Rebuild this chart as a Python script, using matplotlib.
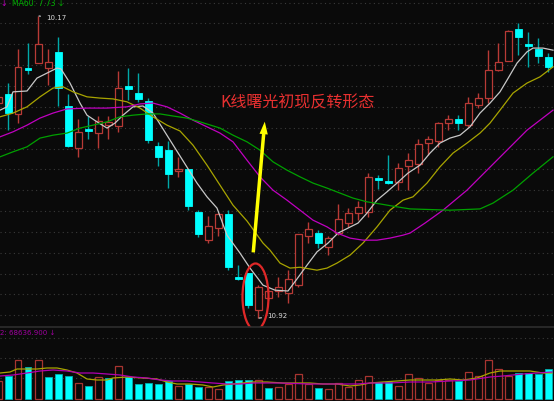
import matplotlib
matplotlib.use("Agg")
import matplotlib.pyplot as plt
from matplotlib.patches import Ellipse
import numpy as np

# daily candles, oldest first (prices)
opens = [16.08, 16.30, 15.82, 16.92, 17.04, 16.92, 17.31, 16.01, 15.00, 15.46,
         15.36, 15.55, 15.53, 16.49, 16.32, 16.13, 15.05, 14.95, 14.45, 14.50,
         13.47, 12.79, 13.08, 13.42, 11.91, 12.00, 11.11, 11.40, 11.57, 11.52,
         11.71, 12.89, 12.96, 12.63, 12.96, 13.20, 13.44, 13.47, 14.28, 14.21,
         14.19, 14.57, 14.62, 15.12, 15.17, 15.60, 15.70, 15.55, 16.03, 16.20,
         16.87, 17.09, 17.86, 17.50, 17.38, 17.19]
highs = [16.27, 16.56, 17.38, 17.52, 18.17, 17.38, 17.67, 16.30, 15.70, 15.77,
         15.77, 15.77, 16.85, 16.92, 16.80, 16.20, 15.15, 15.17, 14.79, 14.50,
         13.51, 13.37, 13.44, 13.51, 12.19, 12.00, 11.71, 11.64, 11.91, 12.07,
         12.94, 13.23, 13.03, 12.89, 13.66, 13.56, 13.73, 14.40, 14.35, 14.83,
         14.64, 14.88, 15.22, 15.29, 15.63, 15.79, 15.79, 16.23, 16.32, 17.35,
         17.52, 17.83, 18.00, 17.79, 17.64, 17.28]
lows = [16.01, 15.43, 15.60, 16.78, 17.04, 16.51, 16.01, 15.03, 14.79, 15.22,
        15.00, 15.22, 15.39, 16.15, 16.11, 15.12, 14.57, 14.04, 14.31, 13.51,
        12.87, 12.72, 12.89, 12.07, 11.83, 11.16, 10.92, 11.35, 11.43, 11.28,
        11.67, 12.72, 12.60, 12.43, 12.91, 13.11, 13.27, 13.35, 14.02, 14.14,
        13.99, 13.99, 14.40, 14.83, 15.03, 15.43, 15.43, 15.51, 15.96, 16.08,
        16.85, 17.09, 17.23, 16.95, 17.04, 16.83]
closes = [16.23, 15.84, 16.95, 16.87, 17.50, 17.07, 16.44, 15.05, 15.39, 15.41,
          15.65, 15.63, 16.44, 16.42, 16.18, 15.19, 14.79, 14.38, 14.50, 13.61,
          12.94, 13.13, 13.42, 12.15, 11.86, 11.23, 11.67, 11.57, 11.67, 11.86,
          12.94, 13.06, 12.72, 12.84, 13.30, 13.44, 13.59, 14.31, 14.23, 14.16,
          14.52, 14.71, 15.10, 15.22, 15.60, 15.70, 15.60, 16.08, 16.20, 16.87,
          17.07, 17.81, 17.67, 17.45, 17.21, 16.95]
volumes = [36000, 46000, 78000, 64000, 78000, 44000, 50000, 46000, 32000, 26000,
           44000, 42000, 66000, 44000, 30000, 32000, 30000, 36000, 26000, 30000,
           24000, 24000, 20000, 36000, 38000, 38000, 38000, 22000, 24000, 30000,
           50000, 30000, 22000, 20000, 32000, 24000, 38000, 46000, 34000, 34000,
           26000, 50000, 42000, 32000, 38000, 38000, 36000, 54000, 46000, 78000,
           60000, 46000, 52000, 52000, 50000, 60000]
# volume bars drawn as "down" even though the candle closed flat/up
vol_down_extra = [5, 11, 27]

# moving averages (candle index, price)
ma5_x = [0.2, 0.9, 1.5, 2.9, 3.9, 4.9, 5.9, 6.3, 7.2, 8.2, 8.9, 9.9, 10.9, 11.7, 12.5,
         13.5, 14.5, 15.5, 16.5, 18.2, 19.9, 20.9, 21.9, 22.9, 24.2, 25.2, 26.5, 27.7,
         29.0, 29.9, 30.9, 31.9, 33.0, 34.0, 35.0, 36.0, 36.9, 37.9, 38.9, 39.9, 41.0,
         42.2, 43.2, 44.2, 45.2, 46.2, 47.2, 48.2, 49.2, 50.2, 50.9, 51.9, 52.9, 53.5,
         54.5, 55.5]
ma5_y = [15.91, 15.99, 16.35, 16.37, 16.68, 16.80, 16.92, 16.90, 16.56, 16.08, 15.79,
         15.63, 15.48, 15.60, 15.79, 15.99, 16.01, 15.84, 15.46, 14.81, 14.16, 13.83,
         13.56, 12.91, 12.48, 12.12, 11.71, 11.59, 11.57, 11.86, 12.19, 12.51, 12.72,
         12.96, 13.08, 13.20, 13.44, 13.75, 13.95, 14.16, 14.40, 14.59, 14.88, 15.12,
         15.24, 15.31, 15.51, 15.84, 16.08, 16.35, 16.63, 17.04, 17.31, 17.40, 17.40,
         17.35]
ma10_x = [0.2, 1.5, 2.9, 4.2, 5.5, 6.5, 7.5, 8.9, 10.2, 11.5, 12.9, 14.2, 15.5, 16.9,
          18.2, 19.5, 20.9, 22.2, 23.5, 24.9, 26.5, 27.2, 28.2, 29.2, 30.2, 31.9, 32.9,
          33.9, 35.2, 36.5, 37.9, 39.2, 40.5, 41.5, 42.9, 44.2, 45.5, 46.9, 48.2, 49.2,
          50.2, 51.5, 52.9, 54.2, 55.5]
ma10_y = [15.75, 15.84, 15.99, 16.23, 16.44, 16.47, 16.35, 16.23, 16.20, 16.18, 16.11,
          15.96, 15.75, 15.55, 15.41, 15.07, 14.59, 14.11, 13.63, 13.25, 12.72, 12.55,
          12.24, 12.12, 12.14, 12.07, 12.12, 12.24, 12.43, 12.72, 13.11, 13.51, 13.75,
          13.83, 14.16, 14.55, 14.88, 15.12, 15.36, 15.60, 15.91, 16.32, 16.56, 16.71,
          16.95]
ma20_x = [0.2, 1.5, 2.9, 4.2, 5.5, 6.9, 8.9, 10.9, 12.9, 14.2, 15.5, 16.9, 18.2, 19.5,
          20.9, 22.2, 23.5, 24.9, 26.2, 27.5, 28.9, 30.2, 31.5, 32.9, 33.9, 35.2, 36.5,
          37.9, 39.2, 40.5, 41.2, 42.7, 44.5, 46.9, 48.9, 50.9, 52.9, 55.5]
ma20_y = [15.27, 15.39, 15.55, 15.72, 15.84, 15.94, 15.96, 15.96, 15.99, 16.06, 16.08,
          15.99, 15.84, 15.67, 15.51, 15.36, 15.15, 14.71, 14.31, 13.99, 13.75, 13.51,
          13.27, 13.11, 12.96, 12.84, 12.79, 12.79, 12.84, 12.91, 12.96, 13.20, 13.51,
          13.99, 14.47, 14.95, 15.43, 15.91]
ma60_x = [0.2, 1.5, 2.9, 4.2, 5.5, 6.9, 8.2, 9.5, 10.9, 12.2, 13.5, 14.9, 16.2, 17.5,
          18.9, 20.2, 22.2, 23.5, 24.9, 26.2, 27.5, 28.9, 30.2, 31.5, 32.9, 34.2, 35.5,
          36.9, 38.2, 39.9, 41.2, 45.2, 48.2, 49.5, 51.5, 53.5, 55.5]
ma60_y = [14.79, 14.91, 15.03, 15.24, 15.31, 15.36, 15.48, 15.55, 15.63, 15.75, 15.79,
          15.82, 15.82, 15.77, 15.72, 15.63, 15.48, 15.31, 15.15, 14.95, 14.67, 14.47,
          14.31, 14.16, 14.04, 13.92, 13.80, 13.71, 13.66, 13.59, 13.54, 13.51, 13.54,
          13.68, 13.99, 14.40, 14.79]

# volume moving averages
vma5_x = [0.2, 1.2, 1.9, 2.9, 3.9, 4.9, 5.9, 6.9, 7.9, 8.9, 9.9, 10.9, 11.5, 12.9, 14.5,
          15.9, 16.9, 17.9, 19.2, 20.5, 21.5, 22.5, 23.5, 24.5, 25.5, 26.9, 28.5, 29.9,
          31.2, 32.5, 33.9, 35.2, 36.2, 37.2, 38.5, 39.9, 41.2, 42.5, 43.9, 45.2, 46.5,
          47.9, 49.2, 50.2, 51.9, 53.2, 54.5, 55.4]
vma5_y = [52000, 54000, 60000, 60000, 60000, 62000, 62000, 58000, 52000, 40000, 38000,
          38000, 42000, 44000, 42000, 40000, 34000, 30000, 30000, 28000, 24000, 28000,
          30000, 32000, 34000, 34000, 32000, 32000, 32000, 30000, 30000, 26000, 28000,
          32000, 34000, 36000, 38000, 38000, 38000, 40000, 38000, 42000, 52000, 56000,
          56000, 56000, 52000, 52000]
vma10_x = [0.2, 1.5, 2.9, 4.2, 5.5, 6.9, 8.2, 9.5, 10.9, 12.2, 13.5, 14.9, 16.2, 17.5,
           18.9, 20.2, 21.5, 22.9, 24.2, 25.5, 26.9, 28.2, 31.2, 34.0, 35.9, 37.2, 39.2,
           41.2, 43.2, 45.2, 47.2, 49.2, 50.5, 52.5, 53.9, 55.4]
vma10_y = [46000, 48000, 52000, 56000, 58000, 56000, 52000, 52000, 50000, 48000, 44000,
           42000, 38000, 36000, 36000, 34000, 32000, 30000, 30000, 32000, 32000, 32000,
           30000, 30000, 30000, 32000, 32000, 34000, 34000, 36000, 38000, 44000, 46000,
           50000, 52000, 54000]

BG = "#0a0a0a"
UP = "#b83a36"
DOWN = "#00ffff"
DOWN_WICK = "#00a8a8"

fig = plt.figure(figsize=(5.54, 4.01), dpi=100, facecolor=BG)
ax = fig.add_axes([0, 74 / 401, 1, 327 / 401])
axv = fig.add_axes([0, 0, 1, 74 / 401])
for a in (ax, axv):
    a.set_facecolor(BG)
    a.set_xticks([])
    a.set_yticks([])
    for s in a.spines.values():
        s.set_visible(False)
    a.set_xlim(0.2, 55.6)

ax.set_ylim(10.706, 18.554)
axv.set_ylim(-4000, 144000)
axv.spines["top"].set_visible(True)
axv.spines["top"].set_color("#2e2e2e")
axv.spines["top"].set_linewidth(1.2)

for lvl in np.arange(10.99, 18.6, 0.5):
    ax.axhline(lvl, color="#3a3a3a", lw=0.8, ls=(0, (1, 3)), zorder=0)
for lvl in (42000, 82000, 122000):
    axv.axhline(lvl, color="#3a3a3a", lw=0.8, ls=(0, (1, 3)), zorder=0)

idx = np.arange(len(opens))
o = np.array(opens)
c = np.array(closes)
up = c >= o

# wicks
ax.vlines(idx[up], np.array(lows)[up], np.array(highs)[up], color=UP, lw=1, zorder=2)
ax.vlines(idx[~up], np.array(lows)[~up], np.array(highs)[~up], color=DOWN_WICK, lw=1, zorder=2)
# bodies
ax.bar(idx[up], (c - o)[up], bottom=o[up], width=0.7, facecolor=BG, edgecolor=UP,
       linewidth=0.9, zorder=3)
ax.bar(idx[~up], (o - c)[~up], bottom=c[~up], width=0.7, facecolor=DOWN,
       edgecolor=DOWN, linewidth=0.6, zorder=3)

ax.plot(ma5_x, ma5_y, color="#c8c8c8", lw=0.9, zorder=4)
ax.plot(ma10_x, ma10_y, color="#a8a400", lw=0.9, zorder=4)
ax.plot(ma20_x, ma20_y, color="#c000c0", lw=0.9, zorder=4)
ax.plot(ma60_x, ma60_y, color="#00a000", lw=0.9, zorder=4)

# volume
vol = np.array(volumes)
vdown = ~up.copy()
vdown[vol_down_extra] = True
axv.bar(idx[~vdown], vol[~vdown], width=0.7, facecolor=BG, edgecolor="#a83430",
        linewidth=0.9, zorder=2)
axv.bar(idx[vdown], vol[vdown], width=0.7, facecolor=DOWN, edgecolor="#00b0b0",
        linewidth=0.6, zorder=2)
axv.plot(vma5_x, vma5_y, color="#a8a400", lw=0.9, zorder=3)
axv.plot(vma10_x, vma10_y, color="#b000b0", lw=0.9, zorder=3)

# high / low markers
hi = int(np.argmax(highs))
lo = int(np.argmin(lows))
ax.annotate("10.17", xy=(hi + 0.1, highs[hi]), xytext=(hi + 0.8, highs[hi] - 0.05),
            color="#d8d8d8", fontsize=5, va="center", ha="left",
            arrowprops=dict(arrowstyle="-", color="#d8d8d8", lw=0.8))
ax.annotate("10.92", xy=(lo + 0.1, lows[lo]), xytext=(lo + 0.9, lows[lo] + 0.05),
            color="#d8d8d8", fontsize=5, va="center", ha="left",
            arrowprops=dict(arrowstyle="-", color="#d8d8d8", lw=0.8))

# circle round the reversal candles and the arrow
ax.add_patch(Ellipse((25.75, 11.43), 2.6, 1.6, fill=False, edgecolor="#e02828",
                     lw=1.6, zorder=6))
ax.annotate("", xy=(26.7, 15.7), xytext=(25.5, 12.43),
            arrowprops=dict(arrowstyle="simple,head_width=0.6,head_length=0.9,tail_width=0.25",
                            color="#ffff00", lw=0), zorder=6)
ax.text(30.0, 16.08, "K线曙光初现反转形态", color="#e83030", fontsize=11.5,
        ha="center", va="center", family=["Noto Sans CJK SC", "DejaVu Sans"], zorder=7)

# header texts
fig.text(0, 1 - 4 / 401, "↓", color="#c000c0", fontsize=5.5, va="center", ha="left")
fig.text(12 / 554, 1 - 4 / 401, "MA60: 7.73 ↓", color="#00b000", fontsize=5.5,
         va="center", ha="left")
fig.text(0, 1 - 333 / 401, "2: 68636.900 ↓", color="#a000a0", fontsize=5,
         va="center", ha="left")

fig.savefig("out.png", dpi=100, facecolor=BG)
